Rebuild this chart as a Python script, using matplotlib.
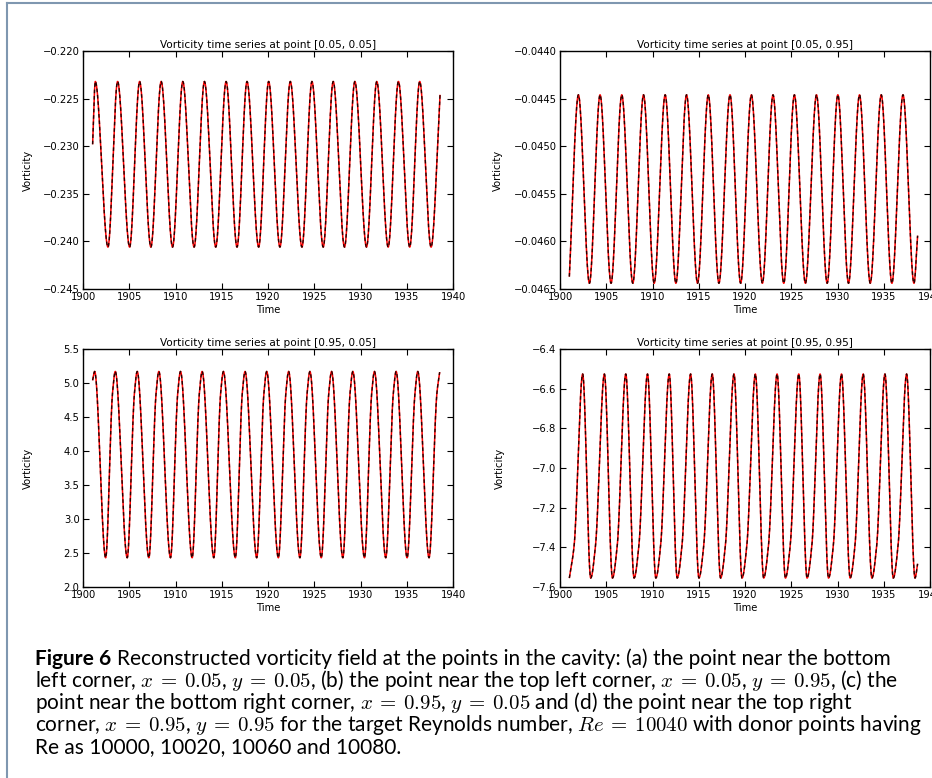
import numpy as np
import matplotlib
matplotlib.use("Agg")
import matplotlib.pyplot as plt
from matplotlib.lines import Line2D
from matplotlib.ticker import FixedLocator, FuncFormatter

plt.rcParams['mathtext.fontset'] = 'cm'
plt.rcParams['font.family'] = ['DejaVu Sans']

# ---------------- data ----------------
# (a) point [0.05, 0.05]
a_start = (1901.04, -0.2298)
a_end = (1938.60, -0.2246)
a_peak_t = [1901.33, 1903.74, 1906.12, 1908.45, 1910.79, 1913.13, 1915.47, 1917.73,
            1920.07, 1922.41, 1924.75, 1927.05, 1929.39, 1931.76, 1934.10, 1936.40]
a_trough_t = [1902.70, 1905.04, 1907.34, 1909.68, 1912.01, 1914.35, 1916.65, 1918.99,
              1921.29, 1923.67, 1925.97, 1928.27, 1930.65, 1932.99, 1935.32, 1937.63]
a_peak_v = -0.2232
a_trough_v = -0.2406

# (b) point [0.05, 0.95]
b_start = (1901.01, -0.04637)
b_end = (1938.66, -0.04594)
b_peak_t = [1901.99, 1904.33, 1906.68, 1909.03, 1911.37, 1913.68, 1916.03, 1918.38,
            1920.69, 1923.03, 1925.34, 1927.73, 1930.04, 1932.38, 1934.73, 1937.08]
b_trough_t = [1903.18, 1905.52, 1907.87, 1910.18, 1912.53, 1914.87, 1917.18, 1919.53,
              1921.88, 1924.19, 1926.53, 1928.88, 1931.19, 1933.54, 1935.88, 1938.27]
b_peak_v = -0.04446
b_trough_v = -0.04644

# (c) point [0.95, 0.05]
c_start = (1901.04, 5.04)
c_end = (1938.56, 5.16)
c_peak_t = [1901.26, 1903.49, 1905.86, 1908.20, 1910.54, 1912.88, 1915.18, 1917.52,
            1919.86, 1922.23, 1924.53, 1926.87, 1929.17, 1931.51, 1933.85, 1936.19]
c_trough_t = [1902.45, 1904.78, 1907.12, 1909.46, 1911.80, 1914.14, 1916.47, 1918.78,
              1921.12, 1923.45, 1925.76, 1928.09, 1930.43, 1932.73, 1935.04, 1937.41]
c_peak_v = 5.17
c_trough_v = 2.43
c_shoulder_before_peak = 0.30   # years before each peak, on the rise
c_shoulder_v = 4.85

# (d) point [0.95, 0.95]
d_start = (1901.01, -7.555)
d_end = (1938.66, -7.483)
d_peak_t = [1902.45, 1904.80, 1907.11, 1909.46, 1911.81, 1914.12, 1916.46, 1918.81,
            1921.12, 1923.47, 1925.81, 1928.12, 1930.43, 1932.78, 1935.13, 1937.47]
d_trough_t = [1903.32, 1905.67, 1908.01, 1910.36, 1912.67, 1915.02, 1917.36, 1919.68,
              1922.02, 1924.37, 1926.71, 1929.03, 1931.37, 1933.72, 1936.03, 1938.38]
d_peak_v = -6.526
d_trough_v = -7.555
d_shoulder_after_trough = 0.52  # years after each trough, on the rise
d_shoulder_v = -7.39

titles = ["Vorticity time series at point [0.05, 0.05]",
          "Vorticity time series at point [0.05, 0.95]",
          "Vorticity time series at point [0.95, 0.05]",
          "Vorticity time series at point [0.95, 0.95]"]
x_ticks = [1900, 1905, 1910, 1915, 1920, 1925, 1930, 1935, 1940]
a_yticks = [-0.245, -0.240, -0.235, -0.230, -0.225, -0.220]
b_yticks = [-0.0465, -0.0460, -0.0455, -0.0450, -0.0445, -0.0440]
c_yticks = [2.0, 2.5, 3.0, 3.5, 4.0, 4.5, 5.0, 5.5]
d_yticks = [-7.6, -7.4, -7.2, -7.0, -6.8, -6.6, -6.4]

caption_lines = [
    "Reconstructed vorticity field at the points in the cavity: (a) the point near the bottom",
    r"left corner, $x\:=\:0.05$, $y\:=\:0.05$, (b) the point near the top left corner, $x\:=\:0.05$, $y\:=\:0.95$, (c) the",
    r"point near the bottom right corner, $x\:=\:0.95$, $y\:=\:0.05$ and (d) the point near the top right",
    r"corner, $x\:=\:0.95$, $y\:=\:0.95$ for the target Reynolds number, $Re\:=\:10040$ with donor points having",
    "Re as 10000, 10020, 10060 and 10080.",
]


# ---------------- helpers ----------------
def key_points(start, end, peak_t, peak_v, trough_t, trough_v, extra=()):
    pts = [start, end] + [(t, peak_v) for t in peak_t] + [(t, trough_v) for t in trough_t]
    pts += list(extra)
    pts.sort()
    return np.array([p[0] for p in pts]), np.array([p[1] for p in pts])


def smooth_through(x, y, n=6000):
    """monotone cubic (Fritsch-Carlson) curve through the read key points"""
    h = np.diff(x)
    d = np.diff(y) / h
    m = np.zeros_like(y)
    for k in range(1, len(x) - 1):
        if d[k - 1] * d[k] > 0:
            w1 = 2 * h[k] + h[k - 1]
            w2 = h[k] + 2 * h[k - 1]
            m[k] = (w1 + w2) / (w1 / d[k - 1] + w2 / d[k])
    m[0] = d[0]
    m[-1] = d[-1]
    xs = np.linspace(x[0], x[-1], n)
    idx = np.clip(np.searchsorted(x, xs) - 1, 0, len(x) - 2)
    t = (xs - x[idx]) / h[idx]
    h00 = 2 * t**3 - 3 * t**2 + 1
    h10 = t**3 - 2 * t**2 + t
    h01 = -2 * t**3 + 3 * t**2
    h11 = t**3 - t**2
    ys = h00 * y[idx] + h10 * h[idx] * m[idx] + h01 * y[idx + 1] + h11 * h[idx] * m[idx + 1]
    return xs, ys


c_next_peaks = c_peak_t[1:] + [c_end[0]]
c_extra = [(tp - c_shoulder_before_peak, c_shoulder_v) for tp in c_next_peaks]
d_extra = [(tt + d_shoulder_after_trough, d_shoulder_v) for tt in [d_start[0]] + d_trough_t
           if tt + d_shoulder_after_trough < d_end[0]]

series = [
    key_points(a_start, a_end, a_peak_t, a_peak_v, a_trough_t, a_trough_v),
    key_points(b_start, b_end, b_peak_t, b_peak_v, b_trough_t, b_trough_v),
    key_points(c_start, c_end, c_peak_t, c_peak_v, c_trough_t, c_trough_v, c_extra),
    key_points(d_start, d_end, d_peak_t, d_peak_v, d_trough_t, d_trough_v, d_extra),
]
yticks = [a_yticks, b_yticks, c_yticks, d_yticks]
yfmt = ["%.3f", "%.4f", "%.1f", "%.1f"]

# ---------------- figure ----------------
W, H = 932, 778
fig = plt.figure(figsize=(W / 100, H / 100), dpi=100)

boxes = [(83, 453, 51, 289), (560, 930, 51, 289), (83, 453, 349, 587), (560, 930, 349, 587)]
ylab_x = [-0.135, -0.154, -0.135, -0.149]

for i, (l, r, t, b) in enumerate(boxes):
    ax = fig.add_axes([l / W, 1 - b / H, (r - l) / W, (b - t) / H])
    kx, ky = series[i]
    xs, ys = smooth_through(kx, ky)
    ax.plot(xs, ys, color='red', lw=1.1, solid_capstyle='butt')
    ax.plot(xs, ys, color='black', lw=1.0, ls=(0, (2.6, 2.0)), alpha=0.85)
    ax.set_xlim(1900, 1940)
    ax.set_ylim(yticks[i][0], yticks[i][-1])
    ax.xaxis.set_major_locator(FixedLocator(x_ticks))
    ax.yaxis.set_major_locator(FixedLocator(yticks[i]))
    f = yfmt[i]
    ax.yaxis.set_major_formatter(FuncFormatter(lambda v, p, f=f: (f % v).replace('-', '\u2212')))
    ax.xaxis.set_major_formatter(FuncFormatter(lambda v, p: "%d" % v))
    ax.tick_params(direction='in', top=True, right=True, length=4, width=0.8,
                   labelsize=7.2, pad=2.5, colors='black')
    for s in ax.spines.values():
        s.set_linewidth(1.0)
    ax.set_title(titles[i], fontsize=7.6, pad=2.5)
    ax.set_xlabel("Time", fontsize=7.2, labelpad=1.5)
    ax.set_ylabel("Vorticity", fontsize=7.2)
    ax.yaxis.set_label_coords(ylab_x[i], 0.5)

# frame lines
frame_col = '#7f97b0'
fig.add_artist(Line2D([6.5 / W, 1.0], [1 - 3 / H, 1 - 3 / H], color=frame_col, lw=1.5,
                      transform=fig.transFigure))
fig.add_artist(Line2D([6.5 / W, 6.5 / W], [0.0, 1 - 3 / H], color=frame_col, lw=1.5,
                      transform=fig.transFigure))

# caption
cap_font = 'Lato'
cap_size = 15.0
x0 = 35 / W
base = [665, 687, 709, 731, 753]
renderer = fig.canvas.get_renderer()
fig6 = fig.text(x0, 1 - base[0] / H, "Figure 6", family=cap_font, weight='bold',
                fontsize=cap_size, va='baseline', ha='left')
bb = fig6.get_window_extent(renderer=renderer)
fig.text(bb.x1 / W + 6 / W, 1 - base[0] / H, caption_lines[0], family=cap_font,
         fontsize=cap_size, va='baseline', ha='left')
for k in range(1, 5):
    fig.text(x0, 1 - base[k] / H, caption_lines[k], family=cap_font, fontsize=cap_size,
             va='baseline', ha='left')

fig.savefig("out.png", dpi=100)
